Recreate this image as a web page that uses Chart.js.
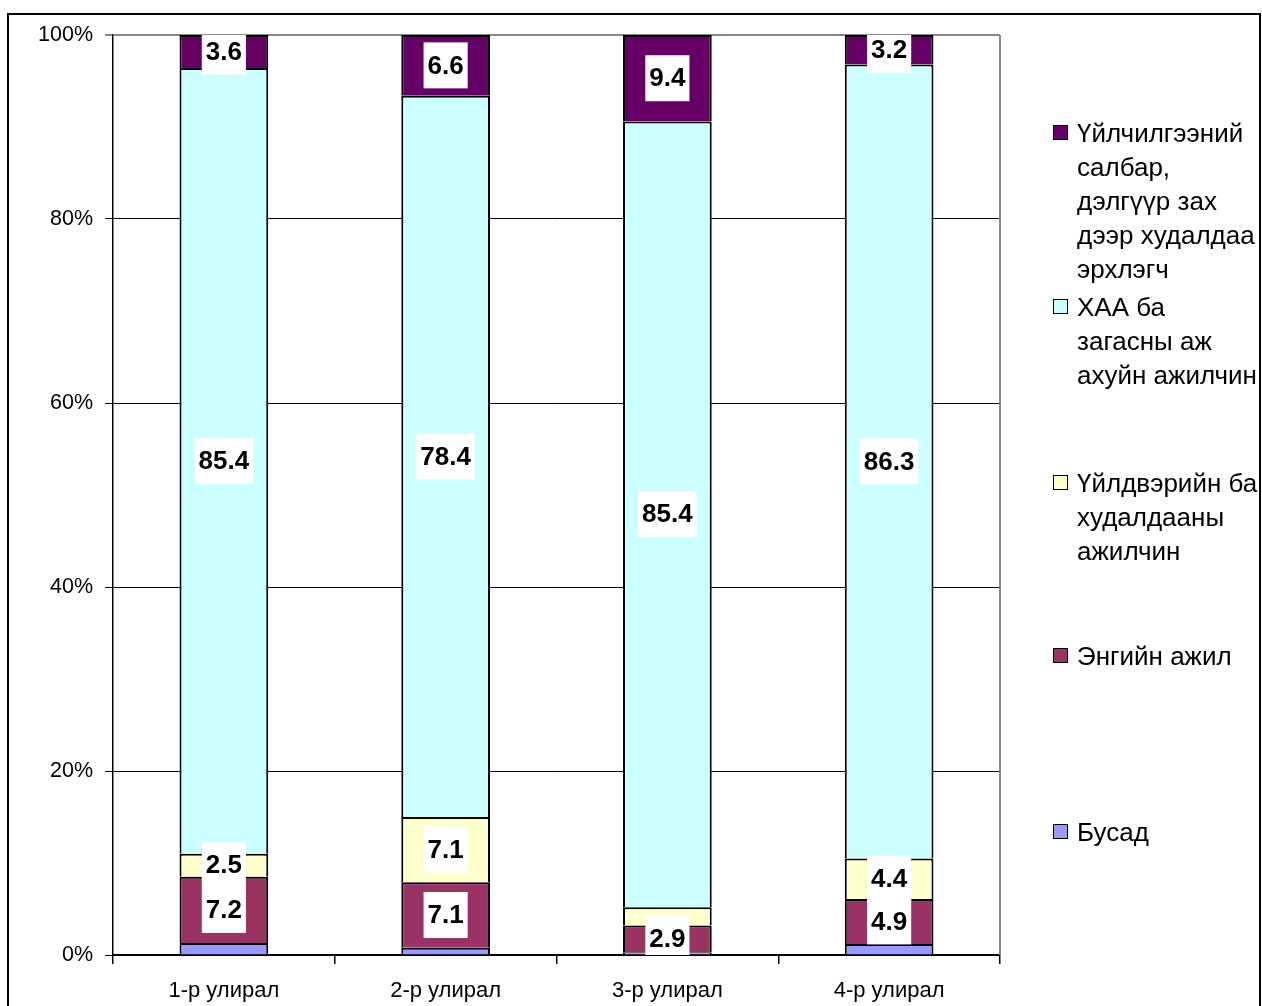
<!DOCTYPE html>
<html>
<head>
<meta charset="utf-8">
<script src="https://cdn.jsdelivr.net/npm/chart.js@4/dist/chart.umd.min.js"></script>
<style>
    html, body { margin: 0; padding: 0; background: #fff; overflow: hidden; }
    #wrap { position: relative; width: 1262px; height: 1006px; }
    #frame {
        position: absolute; left: 7px; top: 13px; width: 1254px; height: 1100px;
        border: 2px solid #000; box-sizing: border-box; pointer-events: none;
    }
    #chartBox { position: absolute; left: 0; top: 0; width: 1262px; height: 1006px; }
    #legend {
        position: absolute; left: 1040px; top: 0; width: 218px; height: 1006px;
        overflow: hidden; font-family: "Liberation Sans", Arial, sans-serif;
        font-size: 26px; color: #000;
    }
    .item { position: absolute; left: 0; white-space: pre; line-height: 34px; }
    .swatch {
        position: absolute; left: 13px; width: 13px; height: 13px;
        border: 1px solid #000;
    }
    .text { position: absolute; left: 37px; top: 0; }
</style>
</head>
<body>
<div id="wrap">
    <div id="chartBox"><canvas id="workChart"></canvas></div>
    <div id="legend"></div>
    <div id="frame"></div>
</div>
<script>
// quarters
const quarters = ["1-р улирал", "2-р улирал", "3-р улирал", "4-р улирал"];

// series, bottom to top (percent)
const other = [1.3, 0.8, 0.3, 1.2];
const basicWork = [7.2, 7.1, 2.9, 4.9];
const productionWork = [2.5, 7.1, 2.0, 4.4];
const farmFishWork = [85.4, 78.4, 85.4, 86.3];
const serviceWork = [3.6, 6.6, 9.4, 3.2];

const seriesNames = [
    "Бусад",
    "Энгийн ажил",
    "Үйлдвэрийн ба худалдааны ажилчин",
    "ХАА ба загасны аж ахуйн ажилчин",
    "Үйлчилгээний салбар, дэлгүүр зах дээр худалдаа эрхлэгч"
];
// how the legend wraps each name
const legendLines = [
    "Бусад",
    "Энгийн ажил",
    "Үйлдвэрийн ба\nхудалдааны\nажилчин",
    "ХАА ба\nзагасны аж\nахуйн ажилчин",
    "Үйлчилгээний\nсалбар,\nдэлгүүр зах\nдээр худалдаа\nэрхлэгч"
];
const seriesColors = ["#9999FF", "#993366", "#FFFFCC", "#CCFFFF", "#660066"];
const yTicks = [0, 20, 40, 60, 80, 100];

const FONT = '"Liberation Sans", Arial, sans-serif';

// white boxed value labels in the middle of each segment
const segmentLabels = {
    id: "segmentLabels",
    afterDatasetsDraw(chart) {
        const ctx = chart.ctx;
        const area = chart.chartArea;
        ctx.save();
        ctx.beginPath();
        ctx.rect(area.left, area.top, area.right - area.left, area.bottom - area.top);
        ctx.clip();
        ctx.font = "bold 26px " + FONT;
        ctx.textAlign = "center";
        ctx.textBaseline = "middle";
        chart.data.datasets.forEach((ds, i) => {
            const meta = chart.getDatasetMeta(i);
            meta.data.forEach((bar, j) => {
                const v = ds.data[j];
                if (v < 2.5) return;
                const text = v.toFixed(1);
                const cy = (bar.y + bar.base) / 2;
                const w = ctx.measureText(text).width + 8;
                const h = 46;
                ctx.fillStyle = "#fff";
                ctx.fillRect(bar.x - w / 2, cy - h / 2, w, h);
                ctx.fillStyle = "#000";
                ctx.fillText(text, bar.x, cy + 1);
            });
        });
        ctx.restore();
    }
};

// grey right edge of the plot area
const plotEdge = {
    id: "plotEdge",
    beforeDatasetsDraw(chart) {
        const ctx = chart.ctx;
        const area = chart.chartArea;
        ctx.save();
        ctx.strokeStyle = "#888";
        ctx.lineWidth = 2;
        ctx.beginPath();
        ctx.moveTo(area.right, area.top);
        ctx.lineTo(area.right, area.bottom);
        ctx.stroke();
        ctx.restore();
    }
};

const seriesValues = [other, basicWork, productionWork, farmFishWork, serviceWork];

const workChart = new Chart(document.getElementById("workChart"), {
    type: "bar",
    data: {
        labels: quarters,
        datasets: seriesValues.map((values, i) => ({
            label: seriesNames[i],
            data: values,
            backgroundColor: seriesColors[i],
            borderColor: "#000",
            borderWidth: 2,
            barPercentage: 0.4,
            categoryPercentage: 1.0,
        })),
    },
    options: {
        responsive: true,
        maintainAspectRatio: false,
        animation: false,
        layout: { padding: { left: 0, top: 35, right: 262, bottom: 0 } },
        plugins: {
            legend: { display: false },
            title: { display: false },
            tooltip: { enabled: false }
        },
        scales: {
            x: {
                stacked: true,
                offset: true,
                grid: {
                    offset: true,
                    drawOnChartArea: false,
                    drawTicks: true,
                    tickLength: 9,
                    color: "#000",
                    lineWidth: 1.5
                },
                border: { color: "#000", width: 1.5 },
                ticks: {
                    color: "#000",
                    font: { family: FONT, size: 22 },
                    padding: 14,
                    maxRotation: 0
                },
                afterFit(scale) { scale.height = 51; }
            },
            y: {
                stacked: true,
                min: 0,
                max: 100,
                afterBuildTicks(scale) { scale.ticks = yTicks.map(v => ({ value: v })); },
                grid: {
                    color: ctx => (ctx.tick && ctx.tick.value === 100) ? "#888" : "#000",
                    lineWidth: ctx => (ctx.tick && ctx.tick.value === 100) ? 2 : 1,
                    tickLength: 8,
                    drawTicks: true
                },
                border: { color: "#000", width: 1.5 },
                ticks: {
                    color: "#000",
                    font: { family: FONT, size: 21.5 },
                    padding: 12,
                    callback: v => v + "%"
                },
                afterFit(scale) { scale.width = 113; }
            }
        }
    },
    plugins: [plotEdge, segmentLabels]
});

// legend, top item first as in the original
const legendTops = [116, 290, 466, 639, 815];
const legendBox = document.getElementById("legend");
for (let k = 0; k < seriesNames.length; k++) {
    const i = seriesNames.length - 1 - k;
    const item = document.createElement("div");
    item.className = "item";
    item.style.top = legendTops[k] + "px";
    const sw = document.createElement("div");
    sw.className = "swatch";
    sw.style.top = "9px";
    sw.style.background = seriesColors[i];
    const tx = document.createElement("div");
    tx.className = "text";
    tx.textContent = legendLines[i];
    item.appendChild(sw);
    item.appendChild(tx);
    legendBox.appendChild(item);
}
</script>
</body>
</html>
